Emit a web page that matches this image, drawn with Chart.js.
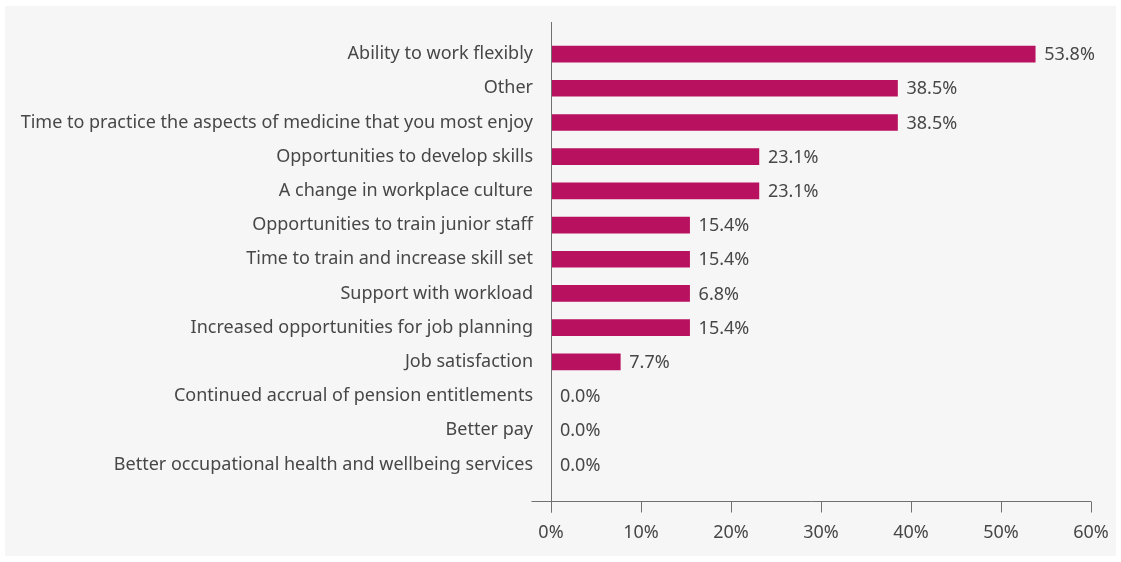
<!DOCTYPE html>
<html>
<head>
<meta charset="utf-8">
<script src="https://cdn.jsdelivr.net/npm/chart.js@4"></script>
<style>
  html, body { margin: 0; padding: 0; background: #ffffff; }
  #panel { position: absolute; left: 5px; top: 6px; width: 1111px; height: 550px; background: #f6f6f6; }
  #wrap { position: absolute; left: 0; top: 0; width: 1121px; height: 562px; }
</style>
</head>
<body>
<div id="panel"></div>
<div id="wrap"><canvas id="barChart" width="1121" height="562"></canvas></div>
<script>
const categories = [
  'Ability to work flexibly',
  'Other',
  'Time to practice the aspects of medicine that you most enjoy',
  'Opportunities to develop skills',
  'A change in workplace culture',
  'Opportunities to train junior staff',
  'Time to train and increase skill set',
  'Support with workload',
  'Increased opportunities for job planning',
  'Job satisfaction',
  'Continued accrual of pension entitlements',
  'Better pay',
  'Better occupational health and wellbeing services'
];
const values = [53.8, 38.5, 38.5, 23.1, 23.1, 15.4, 15.4, 15.4, 15.4, 7.7, 0, 0, 0];
// подписи как на картинке (у "Support with workload" стоит 6.8%)
const valueLabels = ['53.8%', '38.5%', '38.5%', '23.1%', '23.1%', '15.4%', '15.4%', '6.8%', '15.4%', '7.7%', '0.0%', '0.0%', '0.0%'];
const xTicks = [0, 10, 20, 30, 40, 50, 60];

const textColor = '#474747';
const axisColor = '#707070';
const fontFamily = '"Noto Sans", sans-serif';
const fontSize = 18;

// Оси и подписи значений рисуем сами
const axisPlugin = {
  id: 'axisLines',
  afterDraw(chart) {
    const { ctx, chartArea, scales } = chart;
    const x0 = Math.round(scales.x.getPixelForValue(0)) + 0.5;
    const axisY = Math.round(chartArea.bottom + 19.5) + 0.5;
    ctx.save();
    ctx.strokeStyle = axisColor;
    ctx.lineWidth = 1;
    ctx.beginPath();
    ctx.moveTo(x0, chartArea.top - 15);
    ctx.lineTo(x0, axisY + 11);
    ctx.moveTo(x0 - 20, axisY);
    ctx.lineTo(chartArea.right, axisY);
    xTicks.forEach((t) => {
      const px = Math.round(scales.x.getPixelForValue(t)) + 0.5;
      ctx.moveTo(px, axisY);
      ctx.lineTo(px, axisY + 11);
    });
    ctx.stroke();

    ctx.fillStyle = textColor;
    ctx.font = fontSize + 'px ' + fontFamily;
    ctx.textBaseline = 'middle';
    ctx.textAlign = 'left';
    const meta = chart.getDatasetMeta(0);
    meta.data.forEach((bar, i) => {
      ctx.fillText(valueLabels[i], bar.x + 9, bar.y + 1);
    });
    ctx.restore();
  },
};

const ctx = document.getElementById('barChart').getContext('2d');
const chart = new Chart(ctx, {
  type: 'bar',
  data: {
    labels: categories,
    datasets: [{
      data: values,
      backgroundColor: '#b8115f',
      barThickness: 16,
      borderWidth: 0,
    }],
  },
  options: {
    indexAxis: 'y',
    responsive: false,
    animation: false,
    layout: {
      padding: { top: 37, right: 30, bottom: 0, left: 0 },
    },
    plugins: {
      legend: { display: false },
      tooltip: { enabled: false },
    },
    scales: {
      x: {
        min: 0,
        max: 60,
        afterBuildTicks: (scale) => {
          scale.ticks = xTicks.map((v) => ({ value: v }));
        },
        afterFit: (scale) => {
          scale.height = 80.5;
          scale.paddingLeft = 0;
          scale.paddingRight = 0;
        },
        grid: { display: false, drawTicks: false },
        border: { display: false },
        ticks: {
          padding: 41,
          color: textColor,
          font: { family: fontFamily, size: fontSize },
          callback: (v) => v + '%',
          maxRotation: 0,
        },
      },
      y: {
        afterFit: (scale) => {
          scale.width = 551;
        },
        grid: { display: false, drawTicks: false },
        border: { display: false },
        ticks: {
          padding: 18,
          color: textColor,
          font: { family: fontFamily, size: fontSize },
          autoSkip: false,
        },
      },
    },
  },
  plugins: [axisPlugin],
});
</script>
</body>
</html>
